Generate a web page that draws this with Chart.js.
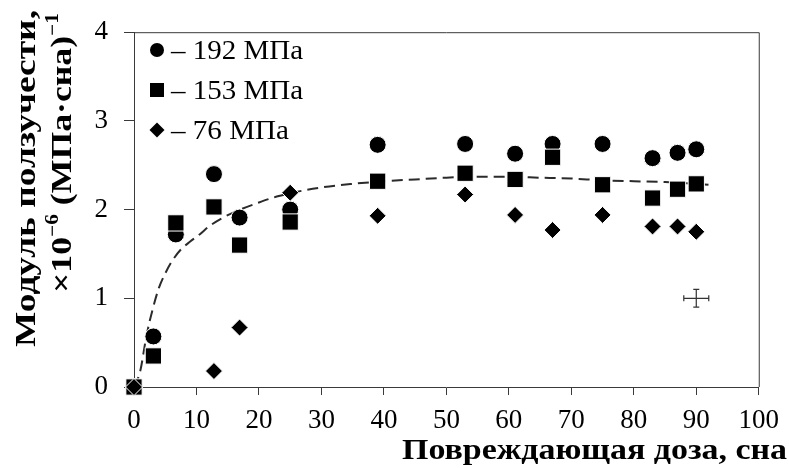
<!DOCTYPE html>
<html lang="ru">
<head>
<meta charset="utf-8">
<title>Модуль ползучести</title>
<script src="https://cdn.jsdelivr.net/npm/chart.js@4.4.1/dist/chart.umd.min.js"></script>
<style>
  html, body { margin: 0; padding: 0; background: #fff; }
  canvas { display: block; }
</style>
</head>
<body>
<canvas id="creep-chart" width="789" height="468"></canvas>
<script>
// damage dose, dpa, and creep modulus, x10^-6 (MPa*dpa)^-1
const dose192 = [0, 3.1, 6.7, 12.8, 16.9, 25, 39, 53, 61, 67, 75, 83, 87, 90];
const mod192 = [0, 0.57, 1.72, 2.40, 1.91, 2.00, 2.73, 2.74, 2.63, 2.74, 2.74, 2.58, 2.64, 2.68];

const dose153 = [0, 3.1, 6.7, 12.8, 16.9, 25, 39, 53, 61, 67, 75, 83, 87, 90];
const mod153 = [0, 0.35, 1.85, 2.03, 1.60, 1.86, 2.32, 2.41, 2.34, 2.59, 2.28, 2.13, 2.23, 2.29];

const dose76 = [0, 12.8, 16.9, 25, 39, 53, 61, 67, 75, 83, 87, 90];
const mod76 = [0, 0.18, 0.67, 2.19, 1.93, 2.17, 1.94, 1.77, 1.94, 1.81, 1.81, 1.75];

// dashed trend curve
const fitDose = [0, 1, 2, 3, 4, 5, 6, 7.5, 9, 10.5, 12, 14, 17, 20, 23, 26, 30, 35, 40, 45, 50, 55, 60, 65, 70, 75, 80, 85, 90, 92];
const fitMod = [0, 0.18, 0.58, 0.88, 1.12, 1.28, 1.41, 1.55, 1.64, 1.72, 1.81, 1.90, 2.00, 2.08, 2.15, 2.20, 2.25, 2.29, 2.32, 2.34, 2.36, 2.37, 2.37, 2.36, 2.35, 2.33, 2.32, 2.31, 2.29, 2.28];

// typical error of a point
const errDose = [90];
const errMod = [1.0];
const errDoseHalf = [2];
const errModHalf = [0.1];

const seriesNames = ['– 192 МПа', '– 153 МПа', '– 76 МПа'];
const xTicks = [0, 10, 20, 30, 40, 50, 60, 70, 80, 90, 100];
const yTicks = [0, 1, 2, 3, 4];

const xTitle = 'Повреждающая доза, сна';
const yTitle1 = 'Модуль ползучести,';
const yTitle2 = [['×10', false], ['−6', true], [' (МПа·сна)', false], ['−1', true]];

const serif = '"Liberation Serif", "Times New Roman", serif';
const axisColor = '#3a3a3a';

function toPoints(xs, ys) {
    return xs.map((x, i) => ({ x: x, y: ys[i] }));
}

function markerPath(ctx, style, x, y, r) {
    ctx.beginPath();
    if (style === 'circle') {
        ctx.arc(x, y, r, 0, Math.PI * 2);
    } else if (style === 'rect') {
        ctx.rect(x - r, y - r, 2 * r, 2 * r);
    } else {
        ctx.moveTo(x, y - r);
        ctx.lineTo(x + r, y);
        ctx.lineTo(x, y + r);
        ctx.lineTo(x - r, y);
        ctx.closePath();
    }
}

// draws runs of text (plain / superscript) stretched to a given width,
// starting at x = 0 of the current transform
function drawRuns(ctx, runs, width, bigFont, supFont) {
    let natural = 0;
    runs.forEach(([t, sup]) => {
        ctx.font = sup ? supFont : bigFont;
        natural += ctx.measureText(t).width;
    });
    ctx.save();
    ctx.scale(width / natural, 1);
    let x = 0;
    runs.forEach(([t, sup]) => {
        ctx.font = sup ? supFont : bigFont;
        ctx.fillText(t, x, sup ? -10 : 0);
        x += ctx.measureText(t).width;
    });
    ctx.restore();
}

const framePlugin = {
    id: 'frame',
    afterDatasetsDraw(chart) {
        const { ctx, chartArea: a, scales } = chart;
        ctx.save();

        // top and right sides of the plot box
        ctx.strokeStyle = axisColor;
        ctx.lineWidth = 1;
        ctx.beginPath();
        ctx.moveTo(a.left, a.top + 0.5);
        ctx.lineTo(a.right + 0.5, a.top + 0.5);
        ctx.lineTo(a.right + 0.5, a.bottom);
        ctx.stroke();

        // error cross
        ctx.strokeStyle = '#333';
        ctx.lineWidth = 1.2;
        errDose.forEach((d, i) => {
            const cx = scales.x.getPixelForValue(d);
            const cy = scales.y.getPixelForValue(errMod[i]);
            const x0 = scales.x.getPixelForValue(d - errDoseHalf[i]);
            const x1 = scales.x.getPixelForValue(d + errDoseHalf[i]);
            const y0 = scales.y.getPixelForValue(errMod[i] + errModHalf[i]);
            const y1 = scales.y.getPixelForValue(errMod[i] - errModHalf[i]);
            ctx.beginPath();
            ctx.moveTo(x0, cy); ctx.lineTo(x1, cy);
            ctx.moveTo(cx, y0); ctx.lineTo(cx, y1);
            ctx.moveTo(x0, cy - 3); ctx.lineTo(x0, cy + 3);
            ctx.moveTo(x1, cy - 3); ctx.lineTo(x1, cy + 3);
            ctx.moveTo(cx - 3, y0); ctx.lineTo(cx + 3, y0);
            ctx.moveTo(cx - 3, y1); ctx.lineTo(cx + 3, y1);
            ctx.stroke();
        });

        // legend in the upper left corner
        const styles = ['circle', 'rect', 'diamond'];
        const sizes = [7, 7, 7.5];
        const legendWidths = [132, 132, 118];
        ctx.fillStyle = '#000';
        ctx.textBaseline = 'middle';
        ctx.textAlign = 'left';
        seriesNames.forEach((name, i) => {
            const y = 50 + i * 40;
            markerPath(ctx, styles[i], 157, y, sizes[i]);
            ctx.fill();
            ctx.save();
            ctx.translate(171, y + 2);
            drawRuns(ctx, [[name, false]], legendWidths[i], '28px ' + serif, '');
            ctx.restore();
        });

        // axis titles
        const bold = 'bold 30px ' + serif;
        const boldSup = 'bold 18px ' + serif;
        ctx.textBaseline = 'alphabetic';
        ctx.save();
        ctx.translate(402, 459);
        drawRuns(ctx, [[xTitle, false]], 385, bold, boldSup);
        ctx.restore();

        ctx.textBaseline = 'middle';
        ctx.save();
        ctx.translate(27, 347);
        ctx.rotate(-Math.PI / 2);
        drawRuns(ctx, [[yTitle1, false]], 337, bold, boldSup);
        ctx.restore();

        ctx.save();
        ctx.translate(63, 293);
        ctx.rotate(-Math.PI / 2);
        drawRuns(ctx, yTitle2, 280, bold, boldSup);
        ctx.restore();

        ctx.restore();
    }
};

const markerBase = {
    showLine: false,
    clip: false,
    backgroundColor: '#000',
    borderColor: '#fff',
    pointBackgroundColor: '#000',
    pointBorderColor: '#fff',
    pointBorderWidth: 1,
    pointHoverRadius: 9
};

new Chart(document.getElementById('creep-chart'), {
    type: 'scatter',
    data: {
        datasets: [
            Object.assign({}, markerBase, {
                label: seriesNames[2],
                data: toPoints(dose76, mod76),
                pointStyle: 'rectRot',
                pointRadius: 8.5,
                order: 0
            }),
            Object.assign({}, markerBase, {
                label: seriesNames[1],
                data: toPoints(dose153, mod153),
                pointStyle: 'rect',
                pointRadius: 11.5,
                order: 1
            }),
            Object.assign({}, markerBase, {
                label: seriesNames[0],
                data: toPoints(dose192, mod192),
                pointStyle: 'circle',
                pointRadius: 8.5,
                order: 2
            }),
            {
                label: 'fit',
                data: toPoints(fitDose, fitMod),
                showLine: true,
                borderColor: '#2b2b2b',
                borderWidth: 2,
                borderDash: [11, 6],
                pointRadius: 0,
                cubicInterpolationMode: 'monotone',
                order: 3
            }
        ]
    },
    options: {
        responsive: false,
        animation: false,
        layout: { padding: { top: 26, right: 28, left: 0, bottom: 0 } },
        plugins: {
            legend: { display: false },
            tooltip: { enabled: false }
        },
        scales: {
            x: {
                type: 'linear',
                min: 0,
                max: 100,
                afterFit(scale) { scale.height = 81; },
                afterBuildTicks(scale) { scale.ticks = xTicks.map(v => ({ value: v })); },
                border: { color: axisColor, width: 1 },
                grid: { drawOnChartArea: false, tickLength: 8, color: axisColor },
                ticks: {
                    color: '#000',
                    padding: 10,
                    maxRotation: 0,
                    font: { family: serif, size: 27 }
                }
            },
            y: {
                type: 'linear',
                min: 0,
                max: 4,
                afterFit(scale) { scale.width = 134; },
                afterBuildTicks(scale) { scale.ticks = yTicks.map(v => ({ value: v })); },
                border: { color: axisColor, width: 1 },
                grid: { drawOnChartArea: false, tickLength: 10, color: axisColor },
                ticks: {
                    color: '#000',
                    padding: 16,
                    font: { family: serif, size: 27 }
                }
            }
        }
    },
    plugins: [framePlugin]
});
</script>
</body>
</html>
